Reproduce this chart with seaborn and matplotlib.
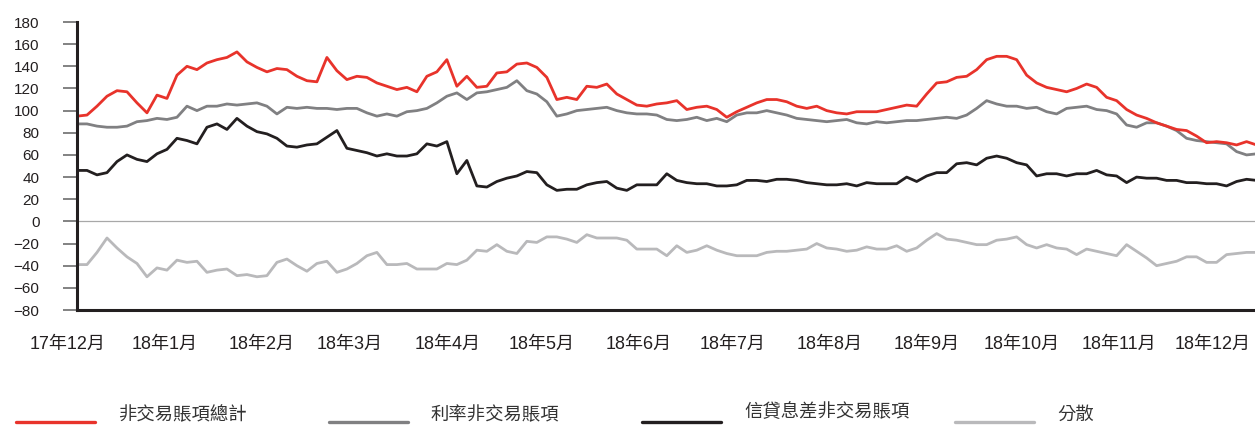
import numpy as np
import pandas as pd
import matplotlib
matplotlib.use('Agg')
import matplotlib.pyplot as plt
import matplotlib.dates as mdates
from matplotlib.lines import Line2D
import seaborn as sns

# sampling dates (about every 3 days, Dec 2017 - Dec 2018)
dates = pd.date_range('2017-12-04', '2018-12-15', periods=119)

total = [95, 96, 104, 113, 118, 117, 107, 98, 114, 111,
         132, 140, 137, 143, 146, 148, 153, 144, 139, 135,
         138, 137, 131, 127, 126, 148, 136, 128, 131, 130,
         125, 122, 119, 121, 117, 131, 135, 146, 122, 131,
         121, 122, 134, 135, 142, 143, 139, 130, 110, 112,
         110, 122, 121, 124, 115, 110, 105, 104, 106, 107,
         109, 101, 103, 104, 101, 94, 99, 103, 107, 110,
         110, 108, 104, 102, 104, 100, 98, 97, 99, 99,
         99, 101, 103, 105, 104, 115, 125, 126, 130, 131,
         137, 146, 149, 149, 146, 132, 125, 121, 119, 117,
         120, 124, 121, 112, 109, 101, 96, 93, 89, 86,
         83, 82, 77, 71, 72, 71, 69, 72, 69]

rates = [88, 88, 86, 85, 85, 86, 90, 91, 93, 92,
         94, 104, 100, 104, 104, 106, 105, 106, 107, 104,
         97, 103, 102, 103, 102, 102, 101, 102, 102, 98,
         95, 97, 95, 99, 100, 102, 107, 113, 116, 110,
         116, 117, 119, 121, 127, 118, 115, 108, 95, 97,
         100, 101, 102, 103, 100, 98, 97, 97, 96, 92,
         91, 92, 94, 91, 93, 90, 96, 98, 98, 100,
         98, 96, 93, 92, 91, 90, 91, 92, 89, 88,
         90, 89, 90, 91, 91, 92, 93, 94, 93, 96,
         102, 109, 106, 104, 104, 102, 103, 99, 97, 102,
         103, 104, 101, 100, 97, 87, 85, 89, 89, 86,
         82, 75, 73, 72, 71, 70, 63, 60, 61]

credit = [46, 46, 42, 44, 54, 60, 56, 54, 61, 65,
          75, 73, 70, 85, 88, 83, 93, 86, 81, 79,
          75, 68, 67, 69, 70, 76, 82, 66, 64, 62,
          59, 61, 59, 59, 61, 70, 68, 72, 43, 55,
          32, 31, 36, 39, 41, 45, 44, 33, 28, 29,
          29, 33, 35, 36, 30, 28, 33, 33, 33, 43,
          37, 35, 34, 34, 32, 32, 33, 37, 37, 36,
          38, 38, 37, 35, 34, 33, 33, 34, 32, 35,
          34, 34, 34, 40, 36, 41, 44, 44, 52, 53,
          51, 57, 59, 57, 53, 51, 41, 43, 43, 41,
          43, 43, 46, 42, 41, 35, 40, 39, 39, 37,
          37, 35, 35, 34, 34, 32, 36, 38, 37]

dispersion = [-39, -39, -28, -15, -24, -32, -38, -50, -42, -44,
              -35, -37, -36, -46, -44, -43, -49, -48, -50, -49,
              -37, -34, -40, -45, -38, -36, -46, -43, -38, -31,
              -28, -39, -39, -38, -43, -43, -43, -38, -39, -35,
              -26, -27, -21, -27, -29, -18, -19, -14, -14, -16,
              -19, -12, -15, -15, -15, -17, -25, -25, -25, -31,
              -22, -28, -26, -22, -26, -29, -31, -31, -31, -28,
              -27, -27, -26, -25, -20, -24, -25, -27, -26, -23,
              -25, -25, -22, -27, -24, -17, -11, -16, -17, -19,
              -21, -21, -17, -16, -14, -21, -24, -21, -24, -25,
              -30, -25, -27, -29, -31, -21, -27, -33, -40, -38,
              -36, -32, -32, -37, -37, -30, -29, -28, -28]

series_names = ['非交易賬項總計', '利率非交易賬項', '信貸息差非交易賬項', '分散']
series_colors = ['#e8332b', '#808082', '#231f20', '#b9b9bb']
month_labels = ['17年12月', '18年1月', '18年2月', '18年3月', '18年4月', '18年5月', '18年6月',
                '18年7月', '18年8月', '18年9月', '18年10月', '18年11月', '18年12月']
month_starts = pd.date_range('2017-12-01', '2018-12-01', freq='MS')

sns.set_style('white')
plt.rcParams['font.family'] = ['Liberation Sans', 'Noto Sans CJK TC']

df = pd.DataFrame({'date': dates, series_names[0]: total, series_names[1]: rates,
                   series_names[2]: credit, series_names[3]: dispersion})
df = df.melt(id_vars='date', var_name='series', value_name='value')

fig = plt.figure(figsize=(12.55, 4.25), dpi=100)
ax = fig.add_axes([77 / 1255, 1 - 310 / 425, 1178 / 1255, 288 / 425])

ax.axhline(0, color='#a8a8a8', lw=0.9, zorder=1)
sns.lineplot(data=df, x='date', y='value', hue='series',
             hue_order=series_names[::-1],
             palette=dict(zip(series_names, series_colors)),
             linewidth=2.0, errorbar=None, legend=False, ax=ax)

ax.set_ylim(-80, 180)
ax.set_yticks(range(-80, 181, 20))
ax.set_xlim(dates[0], pd.Timestamp('2018-12-14 12:00'))
ax.set_xticks([])
ax.set_xlabel('')
ax.set_ylabel('')
for side in ['top', 'right']:
    ax.spines[side].set_visible(False)
for side in ['left', 'bottom']:
    ax.spines[side].set_linewidth(2.2)
    ax.spines[side].set_color('#231f20')
ax.tick_params(axis='y', left=True, length=10, width=1.2, color='#6d6d6d', pad=17,
               labelsize=11, labelcolor='#231f20')

# month labels under the axis
for d, lab in zip(month_starts, month_labels):
    ax.text(mdates.date2num(d), -0.12, lab, transform=ax.get_xaxis_transform(),
            ha='center', va='center', fontsize=13, color='#231f20', clip_on=False)

# legend in fixed-width columns along the bottom
for k, (name, color) in enumerate(zip(series_names, series_colors)):
    x0 = (16 + 313 * k) / 1255
    fig.add_artist(Line2D([x0, x0 + 79 / 1255], [1 - 421.5 / 425] * 2, color=color,
                          lw=2.4, transform=fig.transFigure))
    ty = 1 - (412 if k == 2 else 415) / 425
    fig.text(x0 + 102 / 1255, ty, name, va='center', ha='left',
             fontsize=13.2, color='#333333')

fig.savefig('out.png', dpi=100)
